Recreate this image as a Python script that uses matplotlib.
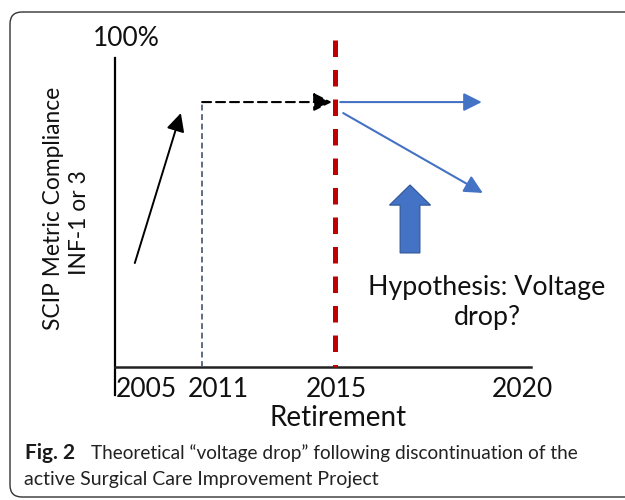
import matplotlib.pyplot as plt
from matplotlib.patches import FancyBboxPatch, FancyArrow

# schematic values: x is a time index (0-100), y is compliance (0-100 %)
years = ['2005', '2011', '2015', '2020']
year_pos = [6.3, 20.8, 44.8, 82.2]

rise_x = [4.0, 13.3]
rise_y = [35.0, 85.5]
plateau_start = 17.6
plateau_level = 89.2
retire_x = 44.4
flat_x = [45.5, 74.1]
flat_y = [89.2, 89.2]
drop_x = [46.1, 74.3]
drop_y = [85.5, 58.6]
hyp_x = 59.6
hyp_y = [38.4, 61.3]

BLUE = '#4472C4'
INK = '#111111'

plt.rcParams['font.family'] = 'Lato'


def px(x, y):  # pixel position -> figure fraction
    return x / 625, 1 - y / 500


fig = plt.figure(figsize=(6.25, 5), dpi=100)

# frame around figure and caption
bg = fig.add_axes([0, 0, 1, 1])
bg.set_xlim(0, 625)
bg.set_ylim(500, 0)
bg.axis('off')
bg.add_patch(FancyBboxPatch((10, 12), 700, 485, boxstyle='round,pad=0,rounding_size=12',
                            fc='none', ec='#333333', lw=1.0))

ax = fig.add_axes([115 / 625, 1 - 367 / 500, 495 / 625, 297 / 500])
ax.set_xlim(0, 100)
ax.set_ylim(0, 100)
for s in ax.spines.values():
    s.set_visible(False)
ax.set_yticks([])
ax.set_xticks(year_pos, years)
ax.tick_params(axis='x', length=0, pad=7, labelsize=19, labelcolor=INK)

# axes lines
ax.plot([0, 0], [104, -9.5], color='black', lw=1.6, clip_on=False)
ax.plot([0, 84], [0, 0], color='#222222', lw=1.8, clip_on=False)

head = '-|>,head_length=1.1,head_width=0.55'

# rise to 2011
ax.annotate('', xy=(rise_x[1], rise_y[1]), xytext=(rise_x[0], rise_y[0]),
            arrowprops=dict(arrowstyle=head, color='black', lw=1.4, shrinkA=0, shrinkB=0))

# plateau after 2011
ax.plot([plateau_start, plateau_start], [0, plateau_level], color='#44546A', lw=1.2,
        linestyle=(0, (3.5, 2.2)))
ax.annotate('', xy=(retire_x - 0.6, plateau_level), xytext=(plateau_start, plateau_level),
            arrowprops=dict(arrowstyle=head, color='black',
                            lw=1.5, linestyle=(0, (4.3, 2.4)), shrinkA=0, shrinkB=0))

# retirement line (drawn top-down so the dash pattern starts at the top)
ax.plot([retire_x, retire_x], [110, 0], color='#C00000', lw=3.6,
        linestyle=(0, (3.3, 2.6)), clip_on=False)

# after retirement
ax.annotate('', xy=(flat_x[1], flat_y[1]), xytext=(flat_x[0], flat_y[0]),
            arrowprops=dict(arrowstyle=head, color=BLUE, lw=1.5, shrinkA=0, shrinkB=0))
ax.annotate('', xy=(drop_x[1], drop_y[1]), xytext=(drop_x[0], drop_y[0]),
            arrowprops=dict(arrowstyle=head, color=BLUE, lw=1.5, shrinkA=0, shrinkB=0))

ax.add_patch(FancyArrow(hyp_x, hyp_y[0], 0, hyp_y[1] - hyp_y[0], width=4.0, head_width=8.3,
                        head_length=6.8, length_includes_head=True, fc=BLUE, ec='#2F5597', lw=0.8))

# texts
fig.text(*px(126, 39), '100%', ha='center', va='center', fontsize=19, color=INK)
fig.text(*px(54, 208), 'SCIP Metric Compliance', rotation=90, ha='center', va='center',
         fontsize=16.4, color=INK)
fig.text(*px(80, 223), 'INF-1 or 3', rotation=90, ha='center', va='center',
         fontsize=16.4, color=INK)
fig.text(*px(487, 287), 'Hypothesis: Voltage', ha='center', va='center', fontsize=19.3, color=INK)
fig.text(*px(487, 318), 'drop?', ha='center', va='center', fontsize=19.3, color=INK)
fig.text(*px(338, 418), 'Retirement', ha='center', va='center', fontsize=20, color=INK)

fig.text(*px(25, 453), 'Fig. 2', ha='left', va='center', fontsize=15, fontweight='bold', color='#1a1a1a')
fig.text(*px(91, 453), 'Theoretical \u201cvoltage drop\u201d following discontinuation of the',
         ha='left', va='center', fontsize=13.7, color='#222222')
fig.text(*px(24, 479), 'active Surgical Care Improvement Project',
         ha='left', va='center', fontsize=14, color='#222222')

fig.savefig('out.png', dpi=100)
